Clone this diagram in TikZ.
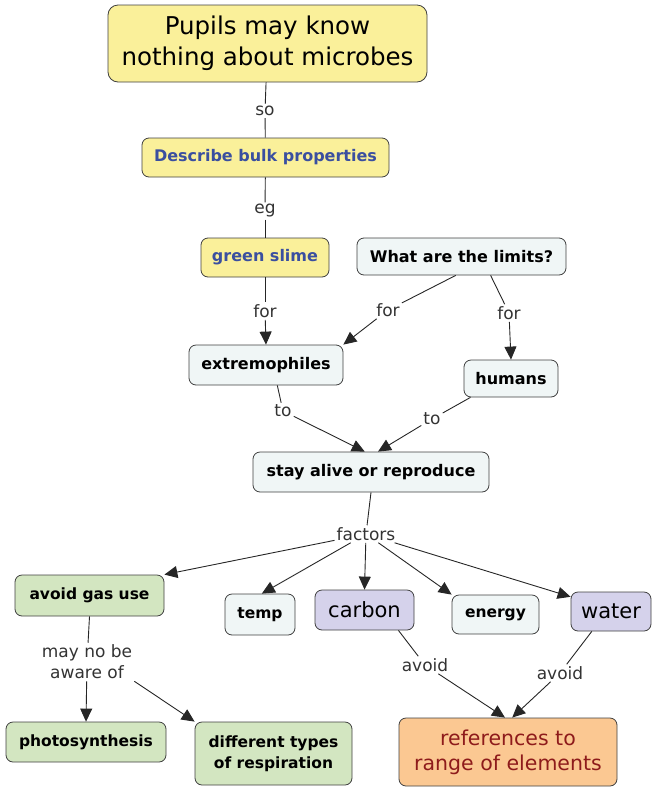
\documentclass[tikz,border=0pt]{standalone}
\usepackage{fontspec}
\setmainfont{DejaVu Sans}
\usetikzlibrary{arrows.meta}
\definecolor{yelf}{HTML}{FAF09A}
\definecolor{palef}{HTML}{F0F6F6}
\definecolor{grnf}{HTML}{D3E6C1}
\definecolor{purf}{HTML}{D5D2EB}
\definecolor{orgf}{HTML}{FBC892}
\definecolor{bluet}{HTML}{3A4FA0}
\definecolor{redt}{HTML}{8E1B1B}
\definecolor{lblt}{HTML}{333333}
\tikzset{
  box/.style={draw=black!75, line width=0.8pt, rounded corners=7pt, align=center, inner sep=2pt,
    font=\fontsize{16}{19}\selectfont\bfseries},
  yel/.style={box, fill=yelf},
  pale/.style={box, fill=palef},
  grn/.style={box, fill=grnf, font=\fontsize{15.5}{21}\selectfont\bfseries},
  pur/.style={box, fill=purf, font=\fontsize{21}{24}\selectfont},
  org/.style={box, fill=orgf, text=redt, font=\fontsize{20.5}{25}\selectfont},
  lbl/.style={text=lblt, align=center, inner sep=2pt, font=\fontsize{17}{21}\selectfont},
  ln/.style={draw=black!85, line width=0.9pt},
  arr/.style={ln, -{Triangle[length=13pt,width=12pt]}}
}
\begin{document}
\begin{tikzpicture}[x=1pt,y=-1pt]
\useasboundingbox (0,0) rectangle (654,788);
% nodes
\node[yel, minimum width=319pt, minimum height=77pt, rounded corners=10pt, font=\fontsize{24.5}{31}\selectfont] (top) at (267.5,43.5) {Pupils may know\\nothing about microbes};
\node[yel, text=bluet, minimum width=247pt, minimum height=39pt] (desc) at (265.5,157.5) {Describe bulk properties};
\node[yel, text=bluet, minimum width=128pt, minimum height=39pt] (slime) at (265,257.5) {green slime};
\node[pale, minimum width=209pt, minimum height=37pt] (lim) at (461.5,256.5) {What are the limits?};
\node[pale, minimum width=154pt, minimum height=40pt] (ext) at (266,365) {extremophiles};
\node[pale, minimum width=94pt, minimum height=37pt] (hum) at (511,378.5) {humans};
\node[pale, minimum width=236pt, minimum height=40pt] (stay) at (371,472) {stay alive or reproduce};
\node[grn, minimum width=149pt, minimum height=41pt] (gas) at (89.5,595.5) {avoid gas use};
\node[pale, minimum width=70pt, minimum height=41pt, font=\fontsize{15.5}{19}\selectfont\bfseries] (temp) at (260,614.5) {temp};
\node[pur, minimum width=99pt, minimum height=40pt] (carb) at (364.5,610) {carbon};
\node[pale, minimum width=87pt, minimum height=39pt, font=\fontsize{15.5}{19}\selectfont\bfseries] (ener) at (495.5,614.5) {energy};
\node[pur, minimum width=80pt, minimum height=39pt] (wat) at (611,611.5) {water};
\node[grn, minimum width=160pt, minimum height=40pt] (photo) at (86,742) {photosynthesis};
\node[grn, minimum width=157pt, minimum height=63pt] (diff) at (273.5,753.5) {different types\\of respiration};
\node[org, minimum width=218pt, minimum height=68pt] (refs) at (508,752) {references to\\range of elements};
% labels
\node[lbl] (l1) at (265,111) {so};
\node[lbl] (l2) at (265,211) {eg};
\node[lbl] (l3) at (265,311) {for};
\node[lbl] (l4) at (388,310) {for};
\node[lbl] (l5) at (509,313) {for};
\node[lbl] (l6) at (283,411) {to};
\node[lbl] (l7) at (432,419) {to};
\node[lbl] (l8) at (366,534) {factors};
\node[lbl] (l9) at (87,662) {may no be\\aware of};
\node[lbl] (l10) at (425,665) {avoid};
\node[lbl] (l11) at (560,673) {avoid};
% connectors
\draw[ln] (top) -- (l1);
\draw[ln] (l1) -- (desc);
\draw[ln] (desc) -- (l2);
\draw[ln] (l2) -- (slime);
\draw[ln] (slime) -- (l3);
\draw[arr] (l3) -- (ext.north);
\draw[ln] (lim.253) -- (l4);
\draw[arr] (l4) -- (ext.north east);
\draw[ln] (lim.327) -- (l5);
\draw[arr] (l5) -- (hum.north);
\draw[ln] (ext.299) -- (l6);
\draw[arr] (l6) -- (stay.107);
\draw[ln] (hum.205) -- (l7);
\draw[arr] (l7) -- (stay.71);
\draw[ln] (stay.south) -- (l8);
\draw[arr] (l8) -- (gas.north east);
\draw[arr] (l8) -- (temp.85);
\draw[arr] (l8) -- (carb.north);
\draw[arr] (l8) -- (ener.north west);
\draw[arr] (l8) -- (wat.160);
\draw[ln] (gas.south) -- (l9);
\draw[arr] (l9) -- (photo.north);
\draw[arr] (l9.south east) -- (diff.north west);
\draw[ln] (carb.329) -- (l10);
\draw[arr] (l10) -- (refs.95);
\draw[ln] (wat.226) -- (l11);
\draw[arr] (l11) -- (refs.83);
\end{tikzpicture}
\end{document}
